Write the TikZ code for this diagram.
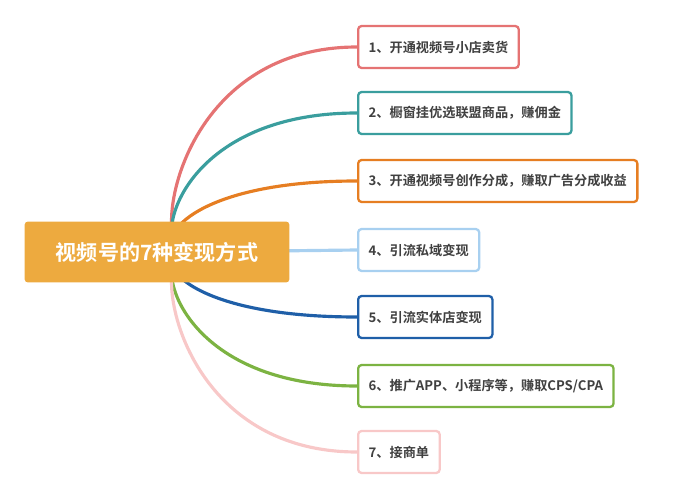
\documentclass[tikz,border=0pt]{standalone}
\usepackage{fontspec}
\setmainfont{Noto Sans CJK SC}[BoldFont={Noto Sans CJK SC Bold}]
\usetikzlibrary{positioning}
\definecolor{cA}{HTML}{E57373}
\definecolor{cB}{HTML}{3A9E9E}
\definecolor{cC}{HTML}{E67E22}
\definecolor{cD}{HTML}{A8D0F0}
\definecolor{cE}{HTML}{1F5FA8}
\definecolor{cF}{HTML}{7CB342}
\definecolor{cG}{HTML}{F8C8C8}
\definecolor{root}{HTML}{EDAA3F}
\tikzset{
  leaf/.style={draw=#1,line width=1.3pt,rounded corners=2pt,fill=white,anchor=west,
    minimum height=0.84cm,inner xsep=6pt,font=\fontsize{7.5}{9}\selectfont\bfseries,text=black!75},
  branch/.style={draw=#1,line width=1.8pt},
}
\begin{document}
\begin{tikzpicture}[x=0.02cm,y=-0.02cm]
\useasboundingbox (0,0) rectangle (687,500);
\coordinate (hub) at (185,252);
\node[leaf=cA] (L1) at (357,47) {1、开通视频号小店卖货};
\node[leaf=cB] (L2) at (357,113) {2、橱窗挂优选联盟商品，赚佣金};
\node[leaf=cC] (L3) at (357,181) {3、开通视频号创作分成，赚取广告分成收益};
\node[leaf=cD] (L4) at (357,250) {4、引流私域变现};
\node[leaf=cE] (L5) at (357,317) {5、引流实体店变现};
\node[leaf=cF] (L6) at (357,386) {6、推广APP、小程序等，赚取CPS/CPA};
\node[leaf=cG] (L7) at (357,452) {7、接商单};
% branches
\foreach \n/\c in {1/cA,2/cB,3/cC,5/cE,6/cF,7/cG}
  \draw[branch=\c] (hub) .. controls (150,252) and (175,0 |- L\n.west) .. (L\n.west);
\draw[branch=cD] (hub) -- (L4.west);
\node[fill=root,rounded corners=2pt,minimum width=5.3cm,minimum height=1.22cm,
  text=white,font=\fontsize{12}{14}\selectfont\bfseries] (R) at (157,252) {视频号的7种变现方式};
\end{tikzpicture}
\end{document}
